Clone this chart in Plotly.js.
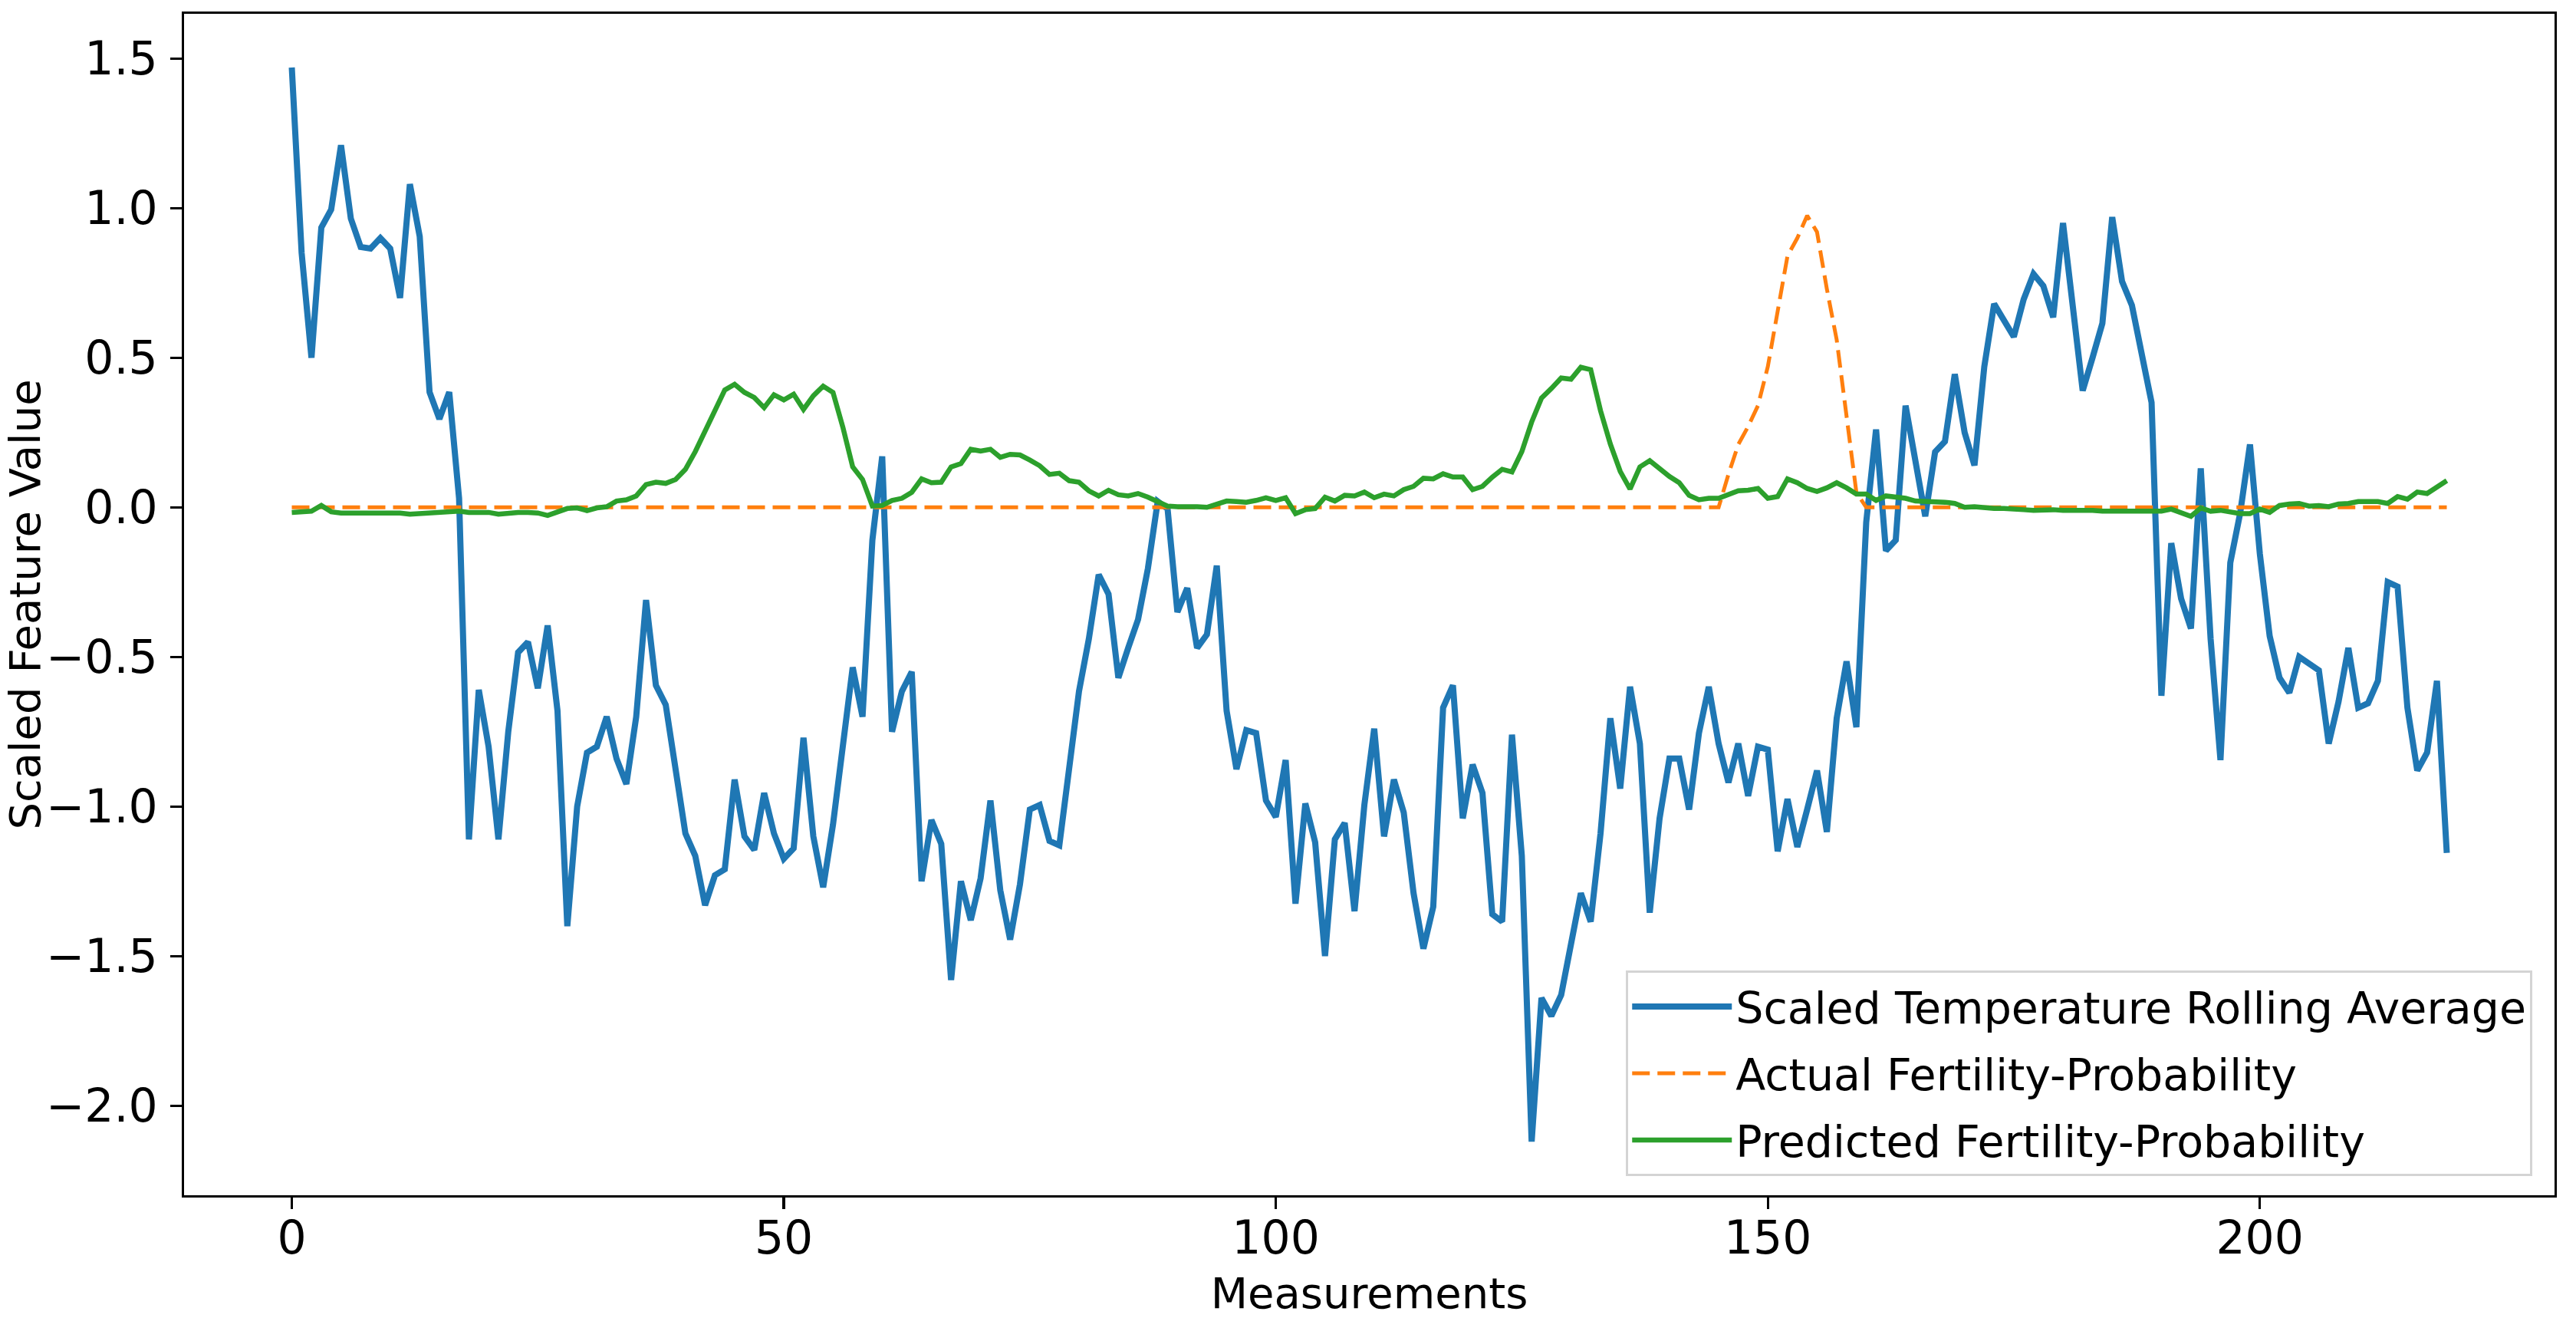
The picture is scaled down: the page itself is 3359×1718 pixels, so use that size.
<!DOCTYPE html>
<html>
<head>
<meta charset="utf-8">
<title>Scaled Feature Value vs Measurements</title>
<script src="https://cdn.plot.ly/plotly-3.0.1.min.js"></script>
<style>
  html, body { margin: 0; padding: 0; background: #ffffff; }
  #plot { width: 3359px; height: 1718px; }
</style>
</head>
<body>
<div id="plot"></div>
<script>
// ----- data: one value per measurement (index 0..219) -----
const TEMP_ROLLING = [
   1.47,   0.85,   0.50,   0.935,  0.995,  1.21,   0.965,  0.87,   0.865,  0.90,
   0.865,  0.70,   1.08,   0.905,  0.385,  0.295,  0.385,  0.03,  -1.11,  -0.61,
  -0.80,  -1.11,  -0.75,  -0.485, -0.45,  -0.605, -0.395, -0.68,  -1.40,  -1.00,
  -0.82,  -0.80,  -0.70,  -0.84,  -0.925, -0.70,  -0.31,  -0.595, -0.66,  -0.88,
  -1.09,  -1.165, -1.33,  -1.23,  -1.21,  -0.91,  -1.10,  -1.145, -0.955, -1.09,
  -1.175, -1.14,  -0.77,  -1.10,  -1.27,  -1.06,  -0.81,  -0.535, -0.70,  -0.11,
   0.17,  -0.75,  -0.615, -0.55,  -1.25,  -1.045, -1.125, -1.58,  -1.25,  -1.38,
  -1.24,  -0.98,  -1.28,  -1.445, -1.26,  -1.01,  -0.995, -1.115, -1.13,  -0.885,
  -0.615, -0.44,  -0.225, -0.29,  -0.57,  -0.47,  -0.375, -0.205,  0.02,  -0.005,
  -0.35,  -0.27,  -0.47,  -0.425, -0.195, -0.68,  -0.875, -0.745, -0.755, -0.98,
  -1.035, -0.845, -1.325, -0.99,  -1.12,  -1.50,  -1.11,  -1.055, -1.35,  -0.995,
  -0.74,  -1.10,  -0.91,  -1.02,  -1.29,  -1.475, -1.335, -0.67,  -0.595, -1.04,
  -0.86,  -0.955, -1.36,  -1.385, -0.76,  -1.165, -2.12,  -1.64,  -1.70,  -1.63,
  -1.455, -1.29,  -1.385, -1.09,  -0.705, -0.94,  -0.60,  -0.79,  -1.355, -1.04,
  -0.84,  -0.84,  -1.01,  -0.755, -0.60,  -0.79,  -0.92,  -0.79,  -0.965, -0.80,
  -0.81,  -1.15,  -0.975, -1.135, -1.01,  -0.88,  -1.085, -0.705, -0.515, -0.735,
  -0.05,   0.26,  -0.145, -0.11,   0.34,   0.16,  -0.03,   0.185,  0.22,   0.445,
   0.25,   0.14,   0.47,   0.68,   0.62,   0.57,   0.695,  0.78,   0.74,   0.635,
   0.95,   0.67,   0.39,   0.50,   0.615,  0.97,   0.755,  0.675,  0.505,  0.35,
  -0.63,  -0.12,  -0.305, -0.405,  0.13,  -0.44,  -0.845, -0.185, -0.02,   0.21,
  -0.155, -0.43,  -0.57,  -0.62,  -0.50,  -0.525, -0.545, -0.79,  -0.65,  -0.47,
  -0.67,  -0.655, -0.58,  -0.25,  -0.265, -0.67,  -0.88,  -0.82,  -0.58,  -1.155
];

// 146 zeros, the hump at 146..159, then 60 zeros
const ACTUAL_FERTILITY = [
  0, 0, 0, 0, 0, 0, 0, 0, 0, 0,   0, 0, 0, 0, 0, 0, 0, 0, 0, 0,
  0, 0, 0, 0, 0, 0, 0, 0, 0, 0,   0, 0, 0, 0, 0, 0, 0, 0, 0, 0,
  0, 0, 0, 0, 0, 0, 0, 0, 0, 0,   0, 0, 0, 0, 0, 0, 0, 0, 0, 0,
  0, 0, 0, 0, 0, 0, 0, 0, 0, 0,   0, 0, 0, 0, 0, 0, 0, 0, 0, 0,
  0, 0, 0, 0, 0, 0, 0, 0, 0, 0,   0, 0, 0, 0, 0, 0, 0, 0, 0, 0,
  0, 0, 0, 0, 0, 0, 0, 0, 0, 0,   0, 0, 0, 0, 0, 0, 0, 0, 0, 0,
  0, 0, 0, 0, 0, 0, 0, 0, 0, 0,   0, 0, 0, 0, 0, 0, 0, 0, 0, 0,
  0, 0, 0, 0, 0, 0,
  0.11, 0.21, 0.27, 0.34, 0.47, 0.65, 0.84, 0.90, 0.975, 0.92, 0.73, 0.56, 0.31, 0.05,
  0, 0, 0, 0, 0, 0, 0, 0, 0, 0,   0, 0, 0, 0, 0, 0, 0, 0, 0, 0,
  0, 0, 0, 0, 0, 0, 0, 0, 0, 0,   0, 0, 0, 0, 0, 0, 0, 0, 0, 0,
  0, 0, 0, 0, 0, 0, 0, 0, 0, 0,   0, 0, 0, 0, 0, 0, 0, 0, 0, 0
];

const PREDICTED_FERTILITY = [
  -0.017, -0.013, -0.013,  0.006, -0.015, -0.019, -0.019, -0.017, -0.017, -0.019,
  -0.019, -0.019, -0.023, -0.021, -0.019, -0.017, -0.017, -0.013, -0.017, -0.015,
  -0.017, -0.023, -0.019, -0.017, -0.017, -0.019, -0.027, -0.017, -0.004, -0.002,
  -0.011, -0.002,  0.002,  0.021,  0.025,  0.038,  0.076,  0.084,  0.080,  0.093,
   0.127,  0.186,  0.253,  0.329,  0.392,  0.411,  0.384,  0.367,  0.333,  0.376,
   0.359,  0.378,  0.327,  0.373,  0.405,  0.384,  0.268,  0.135,  0.093,  0.004,
   0.006,  0.023,  0.030,  0.050,  0.095,  0.082,  0.084,  0.135,  0.146,  0.194,
   0.188,  0.194,  0.167,  0.177,  0.175,  0.158,  0.139,  0.110,  0.114,  0.089,
   0.084,  0.055,  0.038,  0.057,  0.042,  0.038,  0.046,  0.034,  0.017,  0.004,
   0.002,  0.004,  0.002,  0.000,  0.010,  0.021,  0.019,  0.017,  0.023,  0.032,
   0.023,  0.032, -0.021, -0.008, -0.004,  0.034,  0.021,  0.040,  0.038,  0.051,
   0.032,  0.044,  0.038,  0.059,  0.070,  0.097,  0.095,  0.112,  0.101,  0.101,
   0.059,  0.070,  0.101,  0.127,  0.118,  0.186,  0.285,  0.365,  0.397,  0.432,
   0.428,  0.468,  0.460,  0.323,  0.211,  0.120,  0.061,  0.135,  0.156,  0.127,
   0.103,  0.082,  0.040,  0.025,  0.030,  0.030,  0.044,  0.055,  0.057,  0.063,
   0.030,  0.036,  0.095,  0.082,  0.063,  0.053,  0.065,  0.082,  0.065,  0.044,
   0.044,  0.023,  0.038,  0.036,  0.030,  0.021,  0.021,  0.019,  0.017,  0.013,
   0.000,  0.002, -0.002, -0.004, -0.004, -0.004, -0.008, -0.010, -0.008, -0.008,
  -0.010, -0.010, -0.008, -0.010, -0.013, -0.013, -0.010, -0.010, -0.010, -0.010,
  -0.013, -0.006, -0.017, -0.030, -0.002, -0.013, -0.010, -0.017, -0.021, -0.021,
  -0.006, -0.017,  0.006,  0.011,  0.013,  0.004,  0.006,  0.002,  0.011,  0.013,
   0.019,  0.019,  0.019,  0.013,  0.036,  0.027,  0.051,  0.046,  0.068,  0.089
];

const SERIES_NAMES = [
  "Scaled Temperature Rolling Average",
  "Actual Fertility-Probability",
  "Predicted Fertility-Probability"
];
const X_TICKS = [0, 50, 100, 150, 200];
const Y_TICKS = [-2.0, -1.5, -1.0, -0.5, 0.0, 0.5, 1.0, 1.5];

// measurement index on the x axis
const measurements = TEMP_ROLLING.map((_, i) => i);

// ----- traces -----
const FONT = "DejaVu Sans, Liberation Sans, sans-serif";

const traces = [
  {
    name: SERIES_NAMES[0], legendgroup: "a", type: "scatter", mode: "lines",
    x: measurements, y: TEMP_ROLLING,
    line: { color: "#1f77b4", width: 8 }
  },
  {
    name: SERIES_NAMES[1], legendgroup: "b", type: "scatter", mode: "lines",
    x: measurements, y: ACTUAL_FERTILITY,
    line: { color: "#ff7f0e", width: 5, dash: "23px,10px" }
  },
  {
    name: SERIES_NAMES[2], legendgroup: "c", type: "scatter", mode: "lines",
    x: measurements, y: PREDICTED_FERTILITY,
    line: { color: "#2ca02c", width: 6.5 }
  }
];

// matplotlib-style 5% padding around the data
const n = measurements.length - 1;
const yMin = Math.min(...TEMP_ROLLING), yMax = Math.max(...TEMP_ROLLING);
const yPad = (yMax - yMin) * 0.05;

const axisCommon = {
  showgrid: false,
  zeroline: false,
  showline: true,
  mirror: true,
  linecolor: "#000000",
  linewidth: 3.3,
  ticks: "outside",
  ticklen: 15,
  tickwidth: 3.3,
  tickcolor: "#000000",
  tickfont: { family: FONT, size: 60, color: "#000000" },
  automargin: false
};

const layout = {
  width: 3359,
  height: 1718,
  margin: { l: 240, r: 28, t: 18, b: 160 },
  paper_bgcolor: "#ffffff",
  plot_bgcolor: "#ffffff",
  font: { family: FONT, color: "#000000" },
  showlegend: true,
  xaxis: Object.assign({}, axisCommon, {
    range: [-n * 0.05, n * 1.05],
    tickmode: "array",
    tickvals: X_TICKS,
    ticktext: X_TICKS.map(String),
    ticklabelstandoff: -14,
    title: { text: "Measurements", font: { family: FONT, size: 56 }, standoff: 20 }
  }),
  yaxis: Object.assign({}, axisCommon, {
    range: [yMin - yPad, yMax + yPad],
    tickmode: "array",
    tickvals: Y_TICKS,
    ticktext: Y_TICKS.map(v => v.toFixed(1).replace("-", "\u2212")),
    ticklabelstandoff: 4,
    title: { text: "Scaled Feature Value", font: { family: FONT, size: 56 }, standoff: 2 }
  }),
  legend: {
    x: 0.9907, y: 0.016,
    xanchor: "right", yanchor: "bottom",
    bgcolor: "rgba(255,255,255,0.8)",
    bordercolor: "#d4d4d4",
    borderwidth: 3,
    font: { family: FONT, size: 57, color: "#000000" },
    itemwidth: 130,
    tracegroupgap: 10
  }
};

Plotly.newPlot("plot", traces, layout, { displayModeBar: false, staticPlot: true });
</script>
</body>
</html>
